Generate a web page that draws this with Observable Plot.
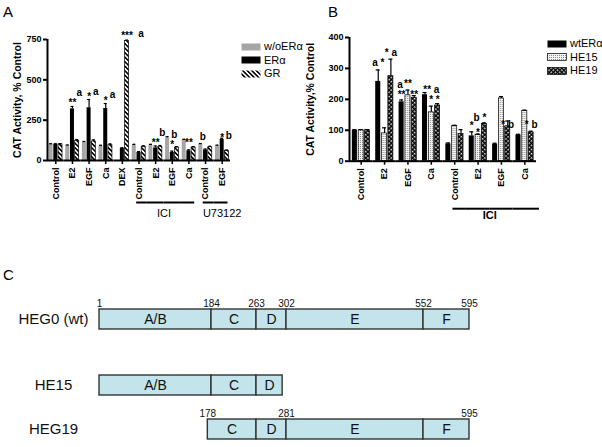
<!DOCTYPE html>
<html>
<head>
<meta charset="utf-8">
<script src="https://cdn.jsdelivr.net/npm/d3@7"></script>
<script src="https://cdn.jsdelivr.net/npm/@observablehq/plot@0.6"></script>
<style>
  html, body { margin: 0; padding: 0; background: #fff; }
  #fig { position: relative; width: 602px; height: 447px; overflow: hidden; font-family: "Liberation Sans", Arial, sans-serif; color: #000; }
  .abs { position: absolute; }
  .abs > svg.overlay { position: absolute; left: 0; top: 0; }
  .letter { position: absolute; font-size: 15px; line-height: 1; }
  .legend { position: absolute; font-size: 11px; line-height: 1; }
  .legend .row { display: flex; align-items: center; height: 13.5px; white-space: nowrap; }
  .legend svg { margin-right: 3px; display: block; }
</style>
</head>
<body>
<svg width="0" height="0" style="position:absolute">
  <defs>
    <pattern id="hatchGR" patternUnits="userSpaceOnUse" width="3.2" height="3.2" patternTransform="rotate(-45)">
      <rect width="3.2" height="3.2" fill="#fff"/>
      <line x1="0.8" y1="0" x2="0.8" y2="3.2" stroke="#000" stroke-width="1.6"/>
    </pattern>
    <pattern id="dotsHE15" patternUnits="userSpaceOnUse" width="2" height="2">
      <rect width="2" height="2" fill="#f4f4f4"/>
      <rect width="1" height="1" fill="#8a8a8a"/>
    </pattern>
    <pattern id="checkHE19" patternUnits="userSpaceOnUse" width="3" height="3" patternTransform="rotate(45)">
      <rect width="3" height="3" fill="#000"/>
      <rect width="1.5" height="1.5" fill="#fff"/>
    </pattern>
  </defs>
</svg>
<div id="fig">
  <div class="abs" id="panelA" style="left:0;top:0;width:300px;height:230px"></div>
  <div class="abs" id="panelB" style="left:300px;top:0;width:302px;height:230px"></div>
  <div class="abs" id="panelC" style="left:0;top:290px"></div>
  <div class="letter" style="left:3px;top:4px">A</div>
  <div class="letter" style="left:328px;top:4px">B</div>
  <div class="letter" style="left:3px;top:267px">C</div>
  <div class="legend" id="legendA" style="left:241px;top:40px"></div>
  <div class="legend" id="legendB" style="left:547px;top:37px"></div>
</div>
<script>
// ---------------- Panel A data ----------------
const groupsA = ["Control","E2","EGF","Ca","DEX","Control","E2","EGF","Ca","Control","EGF"];
const seriesA = ["w/oERα","ERα","GR"];
const woERaA    = [100, 92, 112, 90, null, 95, 95, 140, 125, 100, 90];
const ERaA      = [100, 320, 327, 322, 75, 50, 78, 50, 60, 65, 130];
const GRA       = [100, 122, 118, 95, 740, 85, 85, 80, 80, 82, 60];
const woERaErrA = [4, 4, 6, 4, 0, 5, 5, 8, 6, 5, 5];
const ERaErrA   = [4, 15, 51, 31, 4, 5, 12, 8, 6, 6, 8];
const GRErrA    = [4, 8, 10, 8, 6, 6, 8, 6, 6, 6, 5];
// significance marks: stars centred on a bar, letters slightly to the right
const starGroupA  = [1, 2, 3, 4, 6, 7, 8, 10];
const starSeriesA = ["ERα","ERα","ERα","GR","ERα","ERα","ERα","ERα"];
const starValueA  = [356, 392, 373, 770, 112, 98, 108, 140];
const starTextA   = ["**","*","*","***","**","*","**","*"];
const letterGroupA  = [1, 2, 3, 5, 6, 7, 9, 10];
const letterSeriesA = ["GR","GR","GR","ERα","GR","ERα","w/oERα","GR"];
const letterValueA  = [418, 425, 408, 785, 174, 160, 150, 155];
const letterTextA   = ["a","a","a","a","b","b","b","b"];
const bracketLabelA = ["ICI", "U73122"];
const bracketFirstA = [5, 9];
const bracketLastA  = [8, 10];
const bracketLabelAtA = [6.5, 10];

// ---------------- Panel B data ----------------
const groupsB = ["Control","E2","EGF","Ca","Control","E2","EGF","Ca"];
const seriesB = ["wtERα","HE15","HE19"];
const wtERaB    = [100, 258, 192, 215, 56, 82, 55, 85];
const HE15B     = [100, 90, 213, 158, 114, 85, 203, 163];
const HE19B     = [100, 275, 205, 180, 88, 120, 113, 93];
const wtERaErrB = [2, 37, 6, 7, 3, 13, 3, 2];
const HE15ErrB  = [2, 18, 17, 20, 2, 3, 6, 2];
const HE19ErrB  = [2, 55, 7, 6, 14, 4, 17, 4];
const starGroupB  = [1, 1, 2, 2, 2, 3, 3, 3, 5, 5, 5, 6, 7];
const starSeriesB = ["wtERα","HE19","wtERα","HE15","HE19","HE15","HE15","HE19","wtERα","HE15","HE19","HE19","HE19"];
const starValueB  = [318, 352, 214, 250, 214, 232, 200, 200, 116, 91, 141, 119, 117];
const starTextB   = ["a *","* a","**","**","**","** a","*","*","*","*","*","* b","* b"];
const letterGroupB  = [2, 5];
const letterSeriesB = ["wtERα","HE15"];
const letterValueB  = [248, 141];
const letterTextB   = ["a","b"];
const bracketLabelB = ["ICI"];
const bracketFirstB = [4];
const bracketLastB  = [7];
const bracketLabelAtB = [5.5];

// ---------------- Panel C data ----------------
const constructs = ["HEG0 (wt)", "HE15", "HEG19"];
const segConstruct = ["HEG0 (wt)","HEG0 (wt)","HEG0 (wt)","HEG0 (wt)","HEG0 (wt)","HE15","HE15","HE15","HEG19","HEG19","HEG19","HEG19"];
const segName  = ["A/B","C","D","E","F","A/B","C","D","C","D","E","F"];
const segStart = [1, 184, 263, 302, 552, 1, 184, 263, 178, 263, 302, 552];
const segEnd   = [184, 263, 302, 552, 595, 184, 263, 297, 263, 302, 552, 595];
const numConstruct = ["HEG0 (wt)","HEG0 (wt)","HEG0 (wt)","HEG0 (wt)","HEG0 (wt)","HEG0 (wt)","HEG19","HEG19","HEG19"];
const numAt    = [1, 184, 263, 302, 552, 595, 178, 302, 595];
const numLabel = ["1","184","263","302","552","595","178","281","595"];
// domain boundaries (residues) and their position along the (not-to-scale) schematic
const domainBreaks   = [1, 184, 263, 302, 552, 595];
const schematicBreaks = [0, 112, 157, 187, 324, 370];

// ---------------- helpers ----------------
const FONT = "'Liberation Sans', Arial, sans-serif";
function rows(groups, series, values, errors) {
  const out = [];
  groups.forEach((_, i) => series.forEach((s, j) => {
    const v = values[j][i];
    if (v != null) out.push({g: i, s, v, e: errors[j][i]});
  }));
  return out;
}

function barPanel(cfg) {
  const data = rows(cfg.groups, cfg.series, cfg.values, cfg.errors);
  const stars = cfg.starText.map((t, i) => ({g: cfg.starGroup[i], s: cfg.starSeries[i], y: cfg.starValue[i], t}));
  const letters = cfg.letterText.map((t, i) => ({g: cfg.letterGroup[i], s: cfg.letterSeries[i], y: cfg.letterValue[i], t}));
  const pieces = [], labels = [];
  cfg.bracketLabel.forEach((label, k) => {
    const a = cfg.bracketFirst[k], b = cfg.bracketLast[k];
    for (let g = a; g <= b; g++) pieces.push({g, kind: g === a ? "start" : g === b ? "end" : "mid"});
    const at = cfg.bracketLabelAt[k];
    labels.push({g: Math.floor(at), label, between: at % 1 !== 0});
  });
  const zero = () => 0;
  const bl = cfg.bracket;
  const [mt, mr, mb, ml] = cfg.margin;
  return Plot.plot({
    width: cfg.width, height: cfg.height,
    marginLeft: ml, marginRight: mr, marginTop: mt, marginBottom: mb,
    style: {fontFamily: FONT, fontSize: "9px", fontWeight: "bold", background: "transparent", overflow: "visible"},
    fx: {domain: d3.range(cfg.groups.length), padding: 0, round: false, label: null},
    x: {domain: cfg.series, paddingInner: cfg.xPad[0], paddingOuter: cfg.xPad[1], round: false, axis: null},
    y: {domain: cfg.yDomain, label: null},
    marks: [
      ...cfg.series.map(s => Plot.barY(data.filter(d => d.s === s), {
        fx: "g", x: "s", y: "v", fill: cfg.fills[s], stroke: cfg.strokes[s], strokeWidth: 0.7
      })),
      Plot.ruleX(data.filter(d => d.e > 0), {fx: "g", x: "s", y1: "v", y2: d => d.v + d.e, stroke: "#000", strokeWidth: 1.2}),
      Plot.tickY(data.filter(d => d.e > 0), {fx: "g", x: "s", y: d => d.v + d.e, stroke: "#000", strokeWidth: 1.2, insetLeft: 0.5, insetRight: 0.5}),
      Plot.ruleY([0], {stroke: "#000", strokeWidth: 2}),
      Plot.axisY({ticks: cfg.yTicks, tickSize: 4, tickPadding: 2, strokeWidth: 2, fontWeight: "bold", fontSize: 9, label: null}),
      Plot.axisY({ticks: [], label: cfg.yLabel, labelAnchor: "center", labelArrow: false, labelOffset: cfg.labelOffset,
        fontWeight: "bold", fontSize: 10.5}),
      Plot.axisFx({anchor: "bottom", tickRotate: -90, tickSize: 4, tickPadding: 3, strokeWidth: 1.5,
        tickFormat: i => cfg.groups[i], fontWeight: "bold", fontSize: 9, label: null}),
      Plot.text(stars, {fx: "g", x: "s", y: "y", text: "t", fontSize: 10, fontWeight: "bold", fill: "#000"}),
      Plot.text(letters, {fx: "g", x: "s", y: "y", text: "t", fontSize: 10, fontWeight: "bold", fill: "#000", dx: cfg.letterDx}),
      Plot.ruleY(pieces.filter(p => p.kind === "start"), {fx: "g", y: zero, dy: bl.dy, insetLeft: bl.insetLeft, stroke: "#000", strokeWidth: 2}),
      Plot.ruleY(pieces.filter(p => p.kind === "mid"), {fx: "g", y: zero, dy: bl.dy, stroke: "#000", strokeWidth: 2}),
      Plot.ruleY(pieces.filter(p => p.kind === "end"), {fx: "g", y: zero, dy: bl.dy, insetRight: bl.insetRight, stroke: "#000", strokeWidth: 2}),
      Plot.text(labels.filter(l => l.between), {fx: "g", y: zero, dy: bl.textDy, text: "label", frameAnchor: "right", textAnchor: "middle", fontSize: 11, fontWeight: bl.weight}),
      Plot.text(labels.filter(l => !l.between), {fx: "g", y: zero, dy: bl.textDy, text: "label", fontSize: 11, fontWeight: bl.weight})
    ]
  });
}
// the vertical y-axis line, drawn with the same frame geometry (non-faceted)
function axisLine(cfg) {
  const [mt, mr, mb, ml] = cfg.margin;
  const svg = Plot.plot({
    width: cfg.width, height: cfg.height, marginLeft: ml, marginRight: mr, marginTop: mt, marginBottom: mb,
    style: {background: "transparent", overflow: "visible"},
    x: {domain: [0, 1], axis: null}, y: {domain: cfg.yDomain, axis: null},
    marks: [Plot.ruleX([0], {y1: () => cfg.yDomain[0], y2: () => cfg.yDomain[1], stroke: "#000", strokeWidth: 2})]
  });
  svg.classList.add("overlay");
  return svg;
}
function mount(id, cfg) {
  const el = document.getElementById(id);
  el.append(barPanel(cfg));
  el.append(axisLine(cfg));
}

// ---------------- Panel A ----------------
mount("panelA", {
  groups: groupsA, series: seriesA,
  values: [woERaA, ERaA, GRA], errors: [woERaErrA, ERaErrA, GRErrA],
  starGroup: starGroupA, starSeries: starSeriesA, starValue: starValueA, starText: starTextA,
  letterGroup: letterGroupA, letterSeries: letterSeriesA, letterValue: letterValueA, letterText: letterTextA, letterDx: 2,
  bracketLabel: bracketLabelA, bracketFirst: bracketFirstA, bracketLast: bracketLastA, bracketLabelAt: bracketLabelAtA,
  fills: {"w/oERα": "#a6a6a6", "ERα": "#000", "GR": "url(#hatchGR)"},
  strokes: {"w/oERα": "none", "ERα": "none", "GR": "#000"},
  width: 300, height: 230, margin: [39, 70, 70, 47], xPad: [0.15, 0.34],
  yDomain: [0, 750], yTicks: [0, 250, 500, 750], yLabel: "CAT Activity, % Control", labelOffset: 34,
  bracket: {dy: 42, textDy: 53, insetLeft: 6, insetRight: 2.5, weight: "normal"}
});

// ---------------- Panel B ----------------
mount("panelB", {
  groups: groupsB, series: seriesB,
  values: [wtERaB, HE15B, HE19B], errors: [wtERaErrB, HE15ErrB, HE19ErrB],
  starGroup: starGroupB, starSeries: starSeriesB, starValue: starValueB, starText: starTextB,
  letterGroup: letterGroupB, letterSeries: letterSeriesB, letterValue: letterValueB, letterText: letterTextB, letterDx: -1.5,
  bracketLabel: bracketLabelB, bracketFirst: bracketFirstB, bracketLast: bracketLastB, bracketLabelAt: bracketLabelAtB,
  fills: {"wtERα": "#000", "HE15": "url(#dotsHE15)", "HE19": "url(#checkHE19)"},
  strokes: {"wtERα": "none", "HE15": "#000", "HE19": "#000"},
  width: 302, height: 230, margin: [37, 66, 69.3, 49], xPad: [0.2, 0.45],
  yDomain: [0, 400], yTicks: [0, 100, 200, 300, 400], yLabel: "CAT Activity,% Control", labelOffset: 43,
  bracket: {dy: 47.5, textDy: 54, insetLeft: 10, insetRight: -3, weight: "bold"}
});

// ---------------- Legends ----------------
function legend(id, series, fills, strokes) {
  const el = document.getElementById(id);
  series.forEach(s => {
    const row = document.createElement("div");
    row.className = "row";
    row.innerHTML = `<svg width="20" height="8"><rect x="0.5" y="0.5" width="19" height="7" fill="${fills[s]}" stroke="${strokes[s]}" stroke-width="0.7"/></svg><span>${s}</span>`;
    el.append(row);
  });
}
legend("legendA", seriesA, {"w/oERα": "#a6a6a6", "ERα": "#000", "GR": "url(#hatchGR)"}, {"w/oERα": "none", "ERα": "none", "GR": "none"});
legend("legendB", seriesB, {"wtERα": "#000", "HE15": "url(#dotsHE15)", "HE19": "url(#checkHE19)"}, {"wtERα": "none", "HE15": "#000", "HE19": "#000"});

// ---------------- Panel C ----------------
const schematic = d3.scaleLinear().domain(domainBreaks).range(schematicBreaks);
const segs = segName.map((n, i) => ({c: segConstruct[i], n, a: segStart[i], b: segEnd[i]}));
const nums = numLabel.map((t, i) => ({c: numConstruct[i], x: numAt[i], t}));
const rowsC = [constructs[0], "·1", "·2", constructs[1], "·3", constructs[2]];
document.getElementById("panelC").append(Plot.plot({
  width: 602, height: 157, marginLeft: 99, marginRight: 133, marginTop: 15.2, marginBottom: 3.2,
  style: {fontFamily: FONT, background: "transparent", overflow: "visible"},
  x: {domain: d3.extent(schematicBreaks), axis: null},
  y: {type: "band", domain: rowsC, padding: 0.08, axis: null},
  marks: [
    Plot.barX(segs, {x1: d => schematic(d.a), x2: d => schematic(d.b), y: "c", fill: "#c3e4ea", stroke: "#333", strokeWidth: 1.4}),
    Plot.text(segs, {x: d => (schematic(d.a) + schematic(d.b)) / 2, y: "c", text: "n", fontSize: 14, fill: "#111"}),
    Plot.text(nums, {x: d => schematic(d.x), y: "c", text: "t", fontSize: 10, dy: -13, lineAnchor: "bottom", fill: "#111"}),
    Plot.text(constructs, {y: d => d, text: d => d, frameAnchor: "left", textAnchor: "middle", dx: -46, fontSize: 15, fill: "#111"})
  ]
}));
</script>
</body>
</html>
